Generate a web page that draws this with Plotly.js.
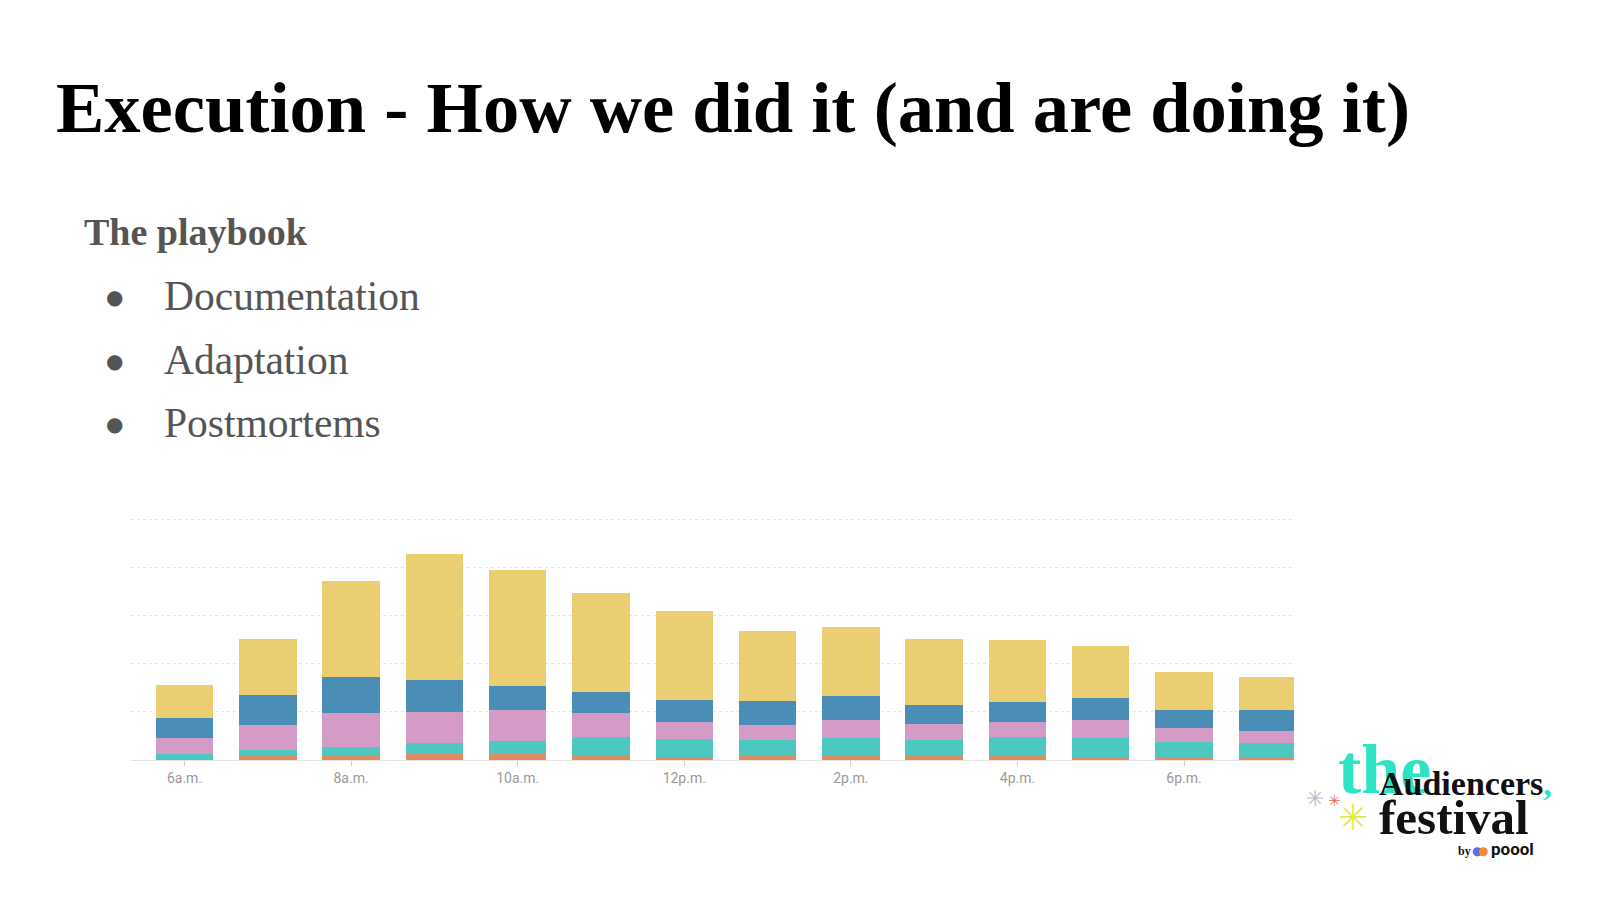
<!DOCTYPE html>
<html>
<head>
<meta charset="utf-8">
<script src="https://cdn.plot.ly/plotly-3.0.1.min.js"></script>
<style>
  html, body { margin: 0; padding: 0; background: #ffffff; }
  #chart { width: 1600px; height: 900px; }
</style>
</head>
<body>
<div id="chart"></div>
<script>
// ---- Data ----
const hours = [6, 7, 8, 9, 10, 11, 12, 13, 14, 15, 16, 17, 18, 19];
const tickHours = [6, 8, 10, 12, 14, 16, 18];
const tickLabels = ["6a.m.", "8a.m.", "10a.m.", "12p.m.", "2p.m.", "4p.m.", "6p.m."];

const seriesOrange = [0.3, 0.8, 1.0, 1.2, 1.3, 1.0, 0.7, 0.8, 0.8, 0.8, 0.8, 0.5, 0.35, 0.35];
const seriesTeal   = [0.9, 1.3, 1.8, 2.4, 2.7, 3.7, 3.6, 3.3, 3.7, 3.4, 4.0, 4.1, 3.35, 3.25];
const seriesPink   = [3.3, 5.2, 7.0, 6.4, 6.3, 5.0, 3.7, 3.2, 3.9, 3.2, 3.1, 3.7, 2.9, 2.5];
const seriesBlue   = [4.3, 6.2, 7.4, 6.6, 5.1, 4.4, 4.4, 5.0, 5.0, 4.1, 4.2, 4.6, 3.8, 4.3];
const seriesYellow = [6.8, 11.6, 20.0, 26.2, 24.0, 20.7, 18.5, 14.5, 14.3, 13.7, 12.9, 10.8, 7.8, 6.9];

const slideTitle = "Execution - How we did it (and are doing it)";
const subHeading = "The playbook";
const bulletItems = ["Documentation", "Adaptation", "Postmortems"];

// ---- Layout geometry ----
const W = 1600, H = 900;
const plotL = 131, plotR = 1294, plotT = 517, plotB = 760.5;
const px = x => (x - plotL) / (plotR - plotL);
const py = y => (plotB - y) / (plotB - plotT);

const colors = {
  orange: "#df8a5f", teal: "#4cc8c1", pink: "#d59bc7", blue: "#4a8eb8", yellow: "#ebce72"
};

function barTrace(vals, color, name) {
  return {
    type: "bar", x: hours, y: vals, name: name,
    marker: { color: color, line: { width: 0 } },
    hoverinfo: "skip"
  };
}

const data = [
  barTrace(seriesOrange, colors.orange, "orange"),
  barTrace(seriesTeal, colors.teal, "teal"),
  barTrace(seriesPink, colors.pink, "pink"),
  barTrace(seriesBlue, colors.blue, "blue"),
  barTrace(seriesYellow, colors.yellow, "yellow")
];

const serif = "Liberation Serif, DejaVu Serif, serif";
const annotations = [];

function addText(text, x, y, opts) {
  annotations.push(Object.assign({
    xref: "paper", yref: "paper", x: px(x), y: py(y),
    text: text, showarrow: false, xanchor: "left", yanchor: "middle"
  }, opts));
}

addText(subHeading, 82, 231, { font: { family: serif, size: 38, color: "#555555", weight: 700 } });

const bulletY = [296, 360, 423];
bulletItems.forEach((t, i) => {
  addText("●", 104, bulletY[i] + 1, { font: { family: "DejaVu Sans", size: 20, color: "#555555" } });
  addText(t, 162, bulletY[i], { font: { family: serif, size: 41.5, color: "#555555" } });
});

// Logo
addText("the", 1336, 770, { font: { family: serif, size: 70, color: "#2ee3c3", weight: 700 } });
addText("Audiencers<span style='color:#2ee3c3'>,</span>", 1377, 784, { font: { family: serif, size: 34, color: "#111111", weight: 700 } });
addText("festival", 1377, 818, { font: { family: serif, size: 49, color: "#111111", weight: 700 } });
addText("by", 1456, 852, { font: { family: serif, size: 12, color: "#111111", weight: 700 } });
addText("●", 1470, 852, { font: { family: "DejaVu Sans", size: 12, color: "#5a6ff0" } });
addText("●", 1476, 852, { font: { family: "DejaVu Sans", size: 12, color: "#f28a3c" } });
addText("poool", 1489, 850, { font: { family: "Roboto, Liberation Sans, sans-serif", size: 17, color: "#111111", weight: 700 } });
addText("✳", 1304, 799, { font: { family: "DejaVu Sans", size: 22, color: "#b8bccb" } });
addText("✳", 1326, 802, { font: { family: "DejaVu Sans", size: 15, color: "#e0704f" } });
addText("✳", 1336, 818, { font: { family: "DejaVu Sans", size: 36, color: "#e6e84a" } });

const layout = {
  width: W, height: H,
  paper_bgcolor: "#ffffff", plot_bgcolor: "#ffffff",
  margin: { l: plotL, r: W - plotR, t: plotT, b: H - plotB, pad: 0 },
  showlegend: false,
  barmode: "stack",
  bargap: 0.31,
  title: {
    text: slideTitle,
    font: { family: serif, size: 72.5, color: "#000000", weight: 700 },
    x: 56 / W, xanchor: "left", xref: "container",
    y: 1 - 107 / H, yanchor: "middle", yref: "container"
  },
  xaxis: {
    range: [5.358, 19.32],
    tickmode: "array", tickvals: tickHours, ticktext: tickLabels,
    ticks: "outside", ticklen: 5, tickcolor: "#d0d0d0", tickwidth: 1,
    showline: true, linecolor: "#e2e2e2", linewidth: 1,
    showgrid: false, zeroline: false,
    tickfont: { family: "Roboto, Liberation Sans, sans-serif", size: 14, color: "#9a9a9a" },
    fixedrange: true
  },
  yaxis: {
    range: [0, 50.5],
    dtick: 10, tick0: 0,
    showticklabels: false, ticks: "",
    showgrid: true, gridcolor: "#e6e6e6", gridwidth: 1, griddash: "dot",
    zeroline: false, showline: false,
    fixedrange: true
  },
  annotations: annotations
};

Plotly.newPlot("chart", data, layout, { displayModeBar: false, staticPlot: true });
</script>
</body>
</html>
